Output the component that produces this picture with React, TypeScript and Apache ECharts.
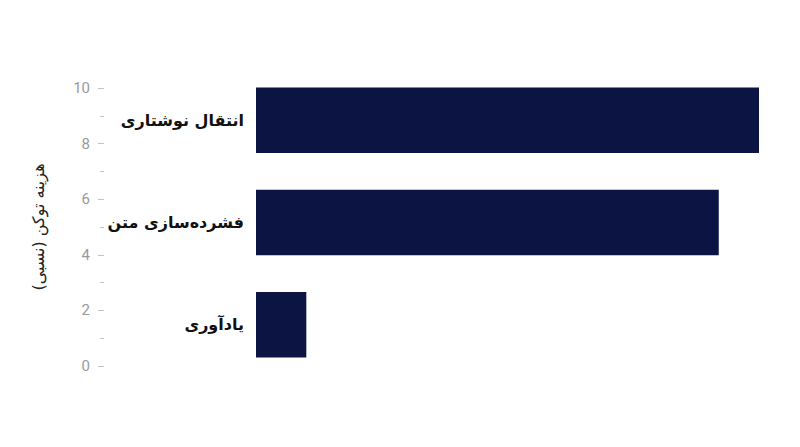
import { useEffect, useRef } from "react";
import * as echarts from "echarts";

const categories = ["انتقال نوشتاری", "فشرده‌سازی متن", "یادآوری"];
const costValues = [10, 9.2, 1.0];
const axisTicks = [0, 2, 4, 6, 8, 10];
const axisTitle = "هزینه توکن (نسبی)";

export default function App() {
  const chartRef = useRef<HTMLDivElement>(null);

  useEffect(() => {
    if (!chartRef.current) return;
    const chart = echarts.init(chartRef.current, null, { renderer: "svg" });

    chart.setOption({
      animation: false,
      backgroundColor: "#ffffff",
      textStyle: { fontFamily: "Roboto, 'DejaVu Sans', sans-serif" },
      grid: [
        // bars
        { left: 256, right: 41, top: 69, bottom: 71 },
        // standalone value axis on the left
        { left: 104, width: 1, top: 88, bottom: 81 },
      ],
      xAxis: [
        { type: "value", gridIndex: 0, min: 0, max: 10, show: false },
        { type: "value", gridIndex: 1, show: false },
      ],
      yAxis: [
        {
          type: "category",
          gridIndex: 0,
          data: categories,
          inverse: true,
          axisLine: { show: false },
          axisTick: { show: false },
          axisLabel: {
            margin: 12,
            color: "#111111",
            fontSize: 16,
            fontWeight: "bold",
            fontFamily: "'DejaVu Sans', sans-serif",
          },
        },
        {
          type: "value",
          gridIndex: 1,
          min: axisTicks[0],
          max: axisTicks[axisTicks.length - 1],
          interval: 2,
          axisLine: { show: false },
          axisTick: { show: true, length: 6, lineStyle: { color: "#c4c4c4" } },
          minorTick: {
            show: true,
            splitNumber: 2,
            length: 4,
            lineStyle: { color: "#c4c4c4" },
          },
          splitLine: { show: false },
          axisLabel: { margin: 14, color: "#9a9a9a", fontSize: 15 },
          name: axisTitle,
          nameLocation: "middle",
          nameGap: 58,
          nameRotate: 90,
          nameTextStyle: {
            color: "#222222",
            fontSize: 16,
            fontFamily: "'DejaVu Sans', sans-serif",
          },
        },
      ],
      series: [
        {
          type: "bar",
          xAxisIndex: 0,
          yAxisIndex: 0,
          data: costValues,
          barCategoryGap: "36%",
          itemStyle: { color: "#0b1442" },
          silent: true,
        },
      ],
    });

    return () => {
      chart.dispose();
    };
  }, []);

  return (
    <div
      ref={chartRef}
      style={{ position: "fixed", left: 0, top: 0, width: "800px", height: "447px" }}
    />
  );
}
